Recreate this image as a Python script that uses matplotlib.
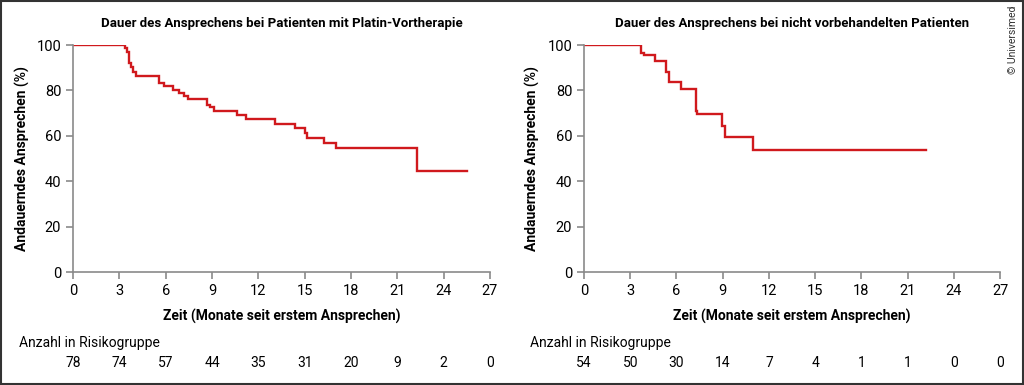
import matplotlib.pyplot as plt
import matplotlib.transforms as mtransforms
from matplotlib.patches import Rectangle

plt.rcParams['font.family'] = ['Roboto', 'DejaVu Sans']

# Kaplan-Meier curve, previously platinum treated (months, % ongoing response)
t_platin = [0, 3.37, 3.48, 3.63, 3.73, 3.9, 4.07, 5.55, 5.92, 6.45, 6.84, 7.19, 7.43,
            8.66, 8.85, 9.13, 10.6, 11.2, 13.06, 14.4, 15.03, 15.18, 16.28, 17.04, 22.3, 25.54]
s_platin = [100, 98.5, 97, 92, 90.4, 88.2, 86.5, 83.1, 81.9, 80.2, 79.0, 77.5, 76.1,
            73.6, 72.6, 71.1, 69.2, 67.4, 65.2, 63.3, 61.1, 59.2, 56.7, 54.5, 44.6, 44.6]

# untreated patients
t_naiv = [0, 3.70, 3.89, 4.63, 5.32, 5.50, 6.29, 7.27, 7.35, 8.98, 9.13, 10.99, 22.2]
s_naiv = [100, 96.3, 95.7, 92.9, 88.1, 83.7, 80.8, 70.9, 69.5, 64.3, 59.3, 53.7, 53.7]

x_ticks = [0, 3, 6, 9, 12, 15, 18, 21, 24, 27]
risk_platin = [78, 74, 57, 44, 35, 31, 20, 9, 2, 0]
risk_naiv = [54, 50, 30, 14, 7, 4, 1, 1, 0, 0]

titles = ['Dauer des Ansprechens bei Patienten mit Platin-Vortherapie',
          'Dauer des Ansprechens bei nicht vorbehandelten Patienten']

red = '#d0191d'
grey = '#8a8a8a'

fig = plt.figure(figsize=(10.24, 3.85), dpi=100)
ax1 = fig.add_axes([0.0713, 0.2935, 0.4072, 0.5895])
ax2 = fig.add_axes([0.5703, 0.2935, 0.4063, 0.5895])

panels = [(ax1, t_platin, s_platin, risk_platin, titles[0]),
          (ax2, t_naiv, s_naiv, risk_naiv, titles[1])]

for ax, t, s, risk, title in panels:
    ax.plot(t, s, drawstyle='steps-post', color=red, lw=1.7, solid_joinstyle='miter')
    ax.set_xlim(0, 27)
    ax.set_ylim(0, 100)
    ax.set_xticks(x_ticks)
    ax.set_yticks([0, 20, 40, 60, 80, 100])
    for side in ['top', 'right']:
        ax.spines[side].set_visible(False)
    for side in ['left', 'bottom']:
        ax.spines[side].set_color(grey)
        ax.spines[side].set_linewidth(1.2)
    ax.tick_params(colors=grey, labelcolor='black', labelsize=10.5, length=5, width=1.2)
    ax.set_xlabel('Zeit (Monate seit erstem Ansprechen)', fontsize=10,
                  fontweight='bold', labelpad=8)
    ax.set_ylabel('Andauerndes Ansprechen (%)', fontsize=10, fontweight='bold', labelpad=5)
    ax.set_title(title, fontsize=9.5, fontweight='bold', pad=13)

    # number at risk under the axis
    trans = mtransforms.blended_transform_factory(ax.transData, fig.transFigure)
    for x, n in zip(x_ticks, risk):
        ax.text(x, 1 - 363 / 385, str(n), transform=trans, ha='center',
                va='center', fontsize=10)
    x0 = ax.get_position().x0 - 54 / 1024
    fig.text(x0, 1 - 343 / 385, 'Anzahl in Risikogruppe', ha='left', va='center',
             fontsize=10)

fig.text(0.989, 0.985, '© Universimed', rotation=90, ha='center', va='top',
         fontsize=7.5, color='#333333')

fig.patches.append(Rectangle((0.001, 0.002), 0.998, 0.996, transform=fig.transFigure,
                             fill=False, edgecolor='#333333', lw=1.5))

fig.savefig('out.png', dpi=100)
